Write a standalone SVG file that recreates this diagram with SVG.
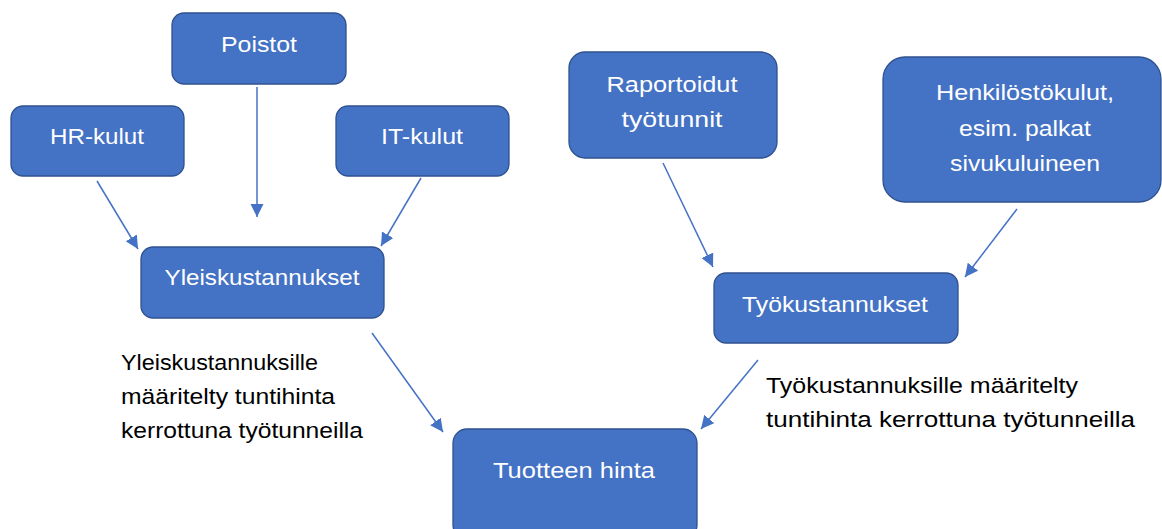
<svg xmlns="http://www.w3.org/2000/svg" width="1162" height="529" viewBox="0 0 1162 529">
<style>
.box{fill:#4472C4;stroke:#2F528F;stroke-width:1.3}
.lbl{font-family:"Liberation Sans",Arial,sans-serif;font-size:22px;fill:#FFFFFF;text-anchor:middle}
.note{font-family:"Liberation Sans",Arial,sans-serif;font-size:22px;fill:#000000}
.conn line{stroke:#4472C4;stroke-width:1.5;fill:none;marker-end:url(#ah)}
</style>
<defs>
<marker id="ah" markerUnits="userSpaceOnUse" markerWidth="14" markerHeight="14" refX="13" refY="6.5" orient="auto">
<path d="M0,0 L13,6.5 L0,13 z" fill="#4472C4"/>
</marker>
</defs>
<rect width="1162" height="529" fill="#FFFFFF"/>
<g id="poistot"><rect class="box" x="172" y="13" width="174" height="71" rx="12"/><text class="lbl" x="259" y="52" textLength="76" lengthAdjust="spacingAndGlyphs">Poistot</text></g>
<g id="hr-kulut"><rect class="box" x="11" y="106" width="173" height="70" rx="12"/><text class="lbl" x="97" y="144" textLength="94" lengthAdjust="spacingAndGlyphs">HR-kulut</text></g>
<g id="it-kulut"><rect class="box" x="336" y="106" width="173" height="70" rx="12"/><text class="lbl" x="422" y="144" textLength="82" lengthAdjust="spacingAndGlyphs">IT-kulut</text></g>
<g id="yleiskustannukset"><rect class="box" x="141" y="247" width="243" height="71" rx="12"/><text class="lbl" x="262" y="285" textLength="195" lengthAdjust="spacingAndGlyphs">Yleiskustannukset</text></g>
<g id="raportoidut"><rect class="box" x="569" y="52" width="208" height="106" rx="16"/><text class="lbl" x="672" y="92" textLength="131" lengthAdjust="spacingAndGlyphs">Raportoidut</text><text class="lbl" x="672" y="127" textLength="101" lengthAdjust="spacingAndGlyphs">työtunnit</text></g>
<g id="henkilostokulut"><rect class="box" x="883" y="57" width="278" height="145" rx="22"/><text class="lbl" x="1025" y="100" textLength="178" lengthAdjust="spacingAndGlyphs">Henkilöstökulut,</text><text class="lbl" x="1025" y="136" textLength="132" lengthAdjust="spacingAndGlyphs">esim. palkat</text><text class="lbl" x="1025" y="171" textLength="150" lengthAdjust="spacingAndGlyphs">sivukuluineen</text></g>
<g id="tyokustannukset"><rect class="box" x="714" y="273" width="244" height="70" rx="12"/><text class="lbl" x="835" y="312" textLength="186" lengthAdjust="spacingAndGlyphs">Työkustannukset</text></g>
<g id="tuotteen-hinta"><rect class="box" x="453" y="429" width="244" height="110" rx="14"/><text class="lbl" x="574" y="478" textLength="162" lengthAdjust="spacingAndGlyphs">Tuotteen hinta</text></g>
<g id="connectors" class="conn">
<line x1="97" y1="181" x2="138" y2="249"/>
<line x1="257" y1="87" x2="257" y2="217"/>
<line x1="421" y1="178" x2="381" y2="246"/>
<line x1="663" y1="163" x2="713" y2="267"/>
<line x1="1017" y1="209" x2="965" y2="277"/>
<line x1="372" y1="333" x2="443" y2="432"/>
<line x1="758" y1="360" x2="701" y2="429"/>
</g>
<g id="label-yleis">
<text class="note" x="121" y="370" textLength="197" lengthAdjust="spacingAndGlyphs">Yleiskustannuksille</text>
<text class="note" x="121" y="404" textLength="214" lengthAdjust="spacingAndGlyphs">määritelty tuntihinta</text>
<text class="note" x="121" y="438" textLength="242" lengthAdjust="spacingAndGlyphs">kerrottuna työtunneilla</text>
</g>
<g id="label-tyo">
<text class="note" x="766" y="393" textLength="312" lengthAdjust="spacingAndGlyphs">Työkustannuksille määritelty</text>
<text class="note" x="766" y="427" textLength="369" lengthAdjust="spacingAndGlyphs">tuntihinta kerrottuna työtunneilla</text>
</g>
</svg>
